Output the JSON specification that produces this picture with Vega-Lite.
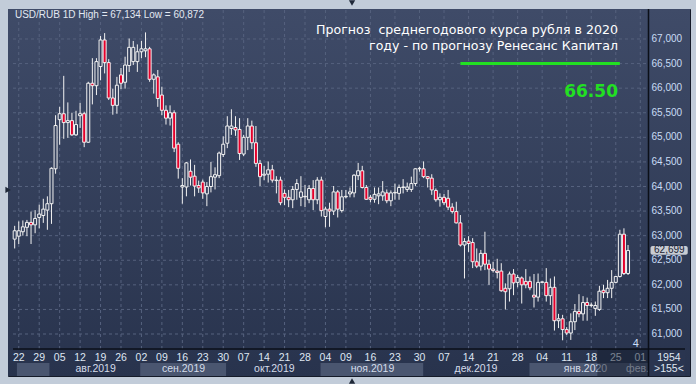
{
  "$schema": "https://vega.github.io/schema/vega-lite/v6.json",
  "width": 682,
  "height": 367,
  "autosize": {"type": "none"},
  "padding": {"left": 8, "top": 9, "right": 6, "bottom": 8},
  "background": "#c2ccd9",
  "config": {
    "view": {"stroke": "#141a28", "strokeWidth": 1, "fill": "#34405b"},
    "locale": {"number": {"decimal": ",", "thousands": " ", "grouping": [3], "currency": ["", ""]}}
  },
  "datasets": {
    "candles": [
      {"i":1,"o":62.93,"h":63.20,"l":62.74,"c":63.10},
      {"i":2,"o":62.99,"h":63.29,"l":62.83,"c":63.10},
      {"i":3,"o":63.08,"h":63.31,"l":63.00,"c":63.18},
      {"i":4,"o":63.17,"h":63.32,"l":62.99,"c":63.27},
      {"i":5,"o":63.27,"h":63.49,"l":62.83,"c":63.22},
      {"i":6,"o":63.22,"h":63.52,"l":63.05,"c":63.35},
      {"i":7,"o":63.37,"h":63.63,"l":63.15,"c":63.44},
      {"i":8,"o":63.41,"h":63.75,"l":63.26,"c":63.54},
      {"i":9,"o":63.52,"h":63.80,"l":63.12,"c":63.65},
      {"i":10,"o":63.65,"h":64.39,"l":63.24,"c":64.37},
      {"i":11,"o":64.36,"h":65.45,"l":64.26,"c":65.24},
      {"i":12,"o":65.36,"h":65.62,"l":64.85,"c":65.48},
      {"i":13,"o":65.48,"h":66.25,"l":64.97,"c":65.30},
      {"i":14,"o":65.30,"h":65.71,"l":64.99,"c":65.34},
      {"i":15,"o":65.34,"h":65.50,"l":65.03,"c":65.05},
      {"i":16,"o":65.05,"h":65.54,"l":65.03,"c":65.26},
      {"i":17,"o":65.44,"h":65.70,"l":65.19,"c":65.48},
      {"i":18,"o":65.48,"h":65.52,"l":64.80,"c":64.90},
      {"i":19,"o":64.90,"h":66.13,"l":64.89,"c":66.10},
      {"i":20,"o":66.10,"h":66.61,"l":65.67,"c":66.05},
      {"i":21,"o":66.05,"h":66.61,"l":65.86,"c":66.54},
      {"i":22,"o":66.44,"h":67.06,"l":66.16,"c":66.98},
      {"i":23,"o":66.98,"h":67.12,"l":66.30,"c":66.52},
      {"i":24,"o":66.52,"h":66.59,"l":65.76,"c":65.80},
      {"i":25,"o":65.80,"h":65.99,"l":65.46,"c":65.65},
      {"i":26,"o":65.65,"h":66.23,"l":65.48,"c":66.06},
      {"i":27,"o":66.27,"h":66.41,"l":65.98,"c":66.10},
      {"i":28,"o":66.12,"h":66.64,"l":65.99,"c":66.47},
      {"i":29,"o":66.46,"h":67.01,"l":66.33,"c":66.83},
      {"i":30,"o":66.54,"h":66.96,"l":66.47,"c":66.83},
      {"i":31,"o":66.54,"h":66.89,"l":66.33,"c":66.74},
      {"i":32,"o":66.74,"h":66.96,"l":66.61,"c":66.80},
      {"i":33,"o":66.76,"h":67.134,"l":66.63,"c":66.80},
      {"i":34,"o":66.80,"h":66.84,"l":66.13,"c":66.18},
      {"i":35,"o":66.18,"h":66.30,"l":65.89,"c":66.27},
      {"i":36,"o":66.23,"h":66.37,"l":65.62,"c":65.79},
      {"i":37,"o":65.86,"h":66.03,"l":65.45,"c":65.55},
      {"i":38,"o":65.55,"h":65.65,"l":65.26,"c":65.39},
      {"i":39,"o":65.39,"h":65.65,"l":65.24,"c":65.50},
      {"i":40,"o":65.50,"h":65.55,"l":64.70,"c":64.78},
      {"i":41,"o":64.86,"h":64.90,"l":64.16,"c":64.37},
      {"i":42,"o":63.99,"h":64.17,"l":63.65,"c":64.02},
      {"i":43,"o":63.99,"h":64.50,"l":63.80,"c":64.48},
      {"i":44,"o":64.31,"h":64.55,"l":64.02,"c":64.19},
      {"i":45,"o":64.21,"h":64.44,"l":63.80,"c":64.01},
      {"i":46,"o":64.02,"h":64.12,"l":63.87,"c":63.97},
      {"i":47,"o":64.09,"h":64.14,"l":63.75,"c":63.87},
      {"i":48,"o":63.85,"h":64.09,"l":63.60,"c":64.00},
      {"i":49,"o":64.00,"h":64.50,"l":63.88,"c":64.20},
      {"i":50,"o":64.19,"h":64.39,"l":63.94,"c":64.24},
      {"i":51,"o":64.22,"h":64.71,"l":64.17,"c":64.68},
      {"i":52,"o":64.65,"h":65.02,"l":64.60,"c":64.86},
      {"i":53,"o":64.88,"h":65.43,"l":64.78,"c":65.23},
      {"i":54,"o":65.18,"h":65.57,"l":65.05,"c":65.23},
      {"i":55,"o":65.20,"h":65.43,"l":65.03,"c":65.15},
      {"i":56,"o":65.16,"h":65.39,"l":64.54,"c":64.67},
      {"i":57,"o":64.66,"h":65.05,"l":64.62,"c":65.00},
      {"i":58,"o":65.00,"h":65.39,"l":64.74,"c":65.23},
      {"i":59,"o":65.23,"h":65.34,"l":64.76,"c":64.89},
      {"i":60,"o":64.89,"h":65.23,"l":64.40,"c":64.47},
      {"i":61,"o":64.47,"h":64.54,"l":64.01,"c":64.20},
      {"i":62,"o":64.23,"h":64.42,"l":64.13,"c":64.25},
      {"i":63,"o":64.25,"h":64.51,"l":64.08,"c":64.34},
      {"i":64,"o":64.34,"h":64.44,"l":64.08,"c":64.13},
      {"i":65,"o":64.12,"h":64.21,"l":63.86,"c":64.13},
      {"i":66,"o":64.13,"h":64.20,"l":63.62,"c":63.67},
      {"i":67,"o":63.86,"h":63.94,"l":63.62,"c":63.78},
      {"i":68,"o":63.78,"h":63.93,"l":63.58,"c":63.73},
      {"i":69,"o":63.73,"h":64.01,"l":63.56,"c":63.94},
      {"i":70,"o":63.94,"h":64.15,"l":63.73,"c":64.06},
      {"i":71,"o":63.78,"h":64.21,"l":63.60,"c":63.89},
      {"i":72,"o":63.79,"h":64.03,"l":63.58,"c":63.80},
      {"i":73,"o":63.73,"h":64.03,"l":63.66,"c":63.96},
      {"i":74,"o":63.96,"h":64.13,"l":63.52,"c":63.73},
      {"i":75,"o":63.73,"h":64.19,"l":63.64,"c":64.13},
      {"i":76,"o":64.13,"h":64.20,"l":63.39,"c":63.51},
      {"i":77,"o":63.39,"h":63.59,"l":63.17,"c":63.54},
      {"i":78,"o":63.54,"h":63.67,"l":63.18,"c":63.50},
      {"i":79,"o":63.50,"h":64.01,"l":63.42,"c":63.89},
      {"i":80,"o":63.89,"h":63.93,"l":63.37,"c":63.54},
      {"i":81,"o":63.51,"h":63.93,"l":63.47,"c":63.79},
      {"i":82,"o":63.79,"h":63.93,"l":63.76,"c":63.80},
      {"i":83,"o":63.85,"h":63.98,"l":63.78,"c":63.89},
      {"i":84,"o":63.87,"h":64.25,"l":63.78,"c":64.23},
      {"i":85,"o":64.22,"h":64.48,"l":64.13,"c":64.32},
      {"i":86,"o":64.32,"h":64.42,"l":63.96,"c":63.98},
      {"i":87,"o":63.98,"h":64.03,"l":63.73,"c":63.74},
      {"i":88,"o":63.78,"h":63.83,"l":63.68,"c":63.74},
      {"i":89,"o":63.74,"h":63.98,"l":63.67,"c":63.84},
      {"i":90,"o":63.81,"h":63.98,"l":63.64,"c":63.85},
      {"i":91,"o":63.81,"h":64.11,"l":63.71,"c":63.89},
      {"i":92,"o":63.87,"h":63.94,"l":63.66,"c":63.71},
      {"i":93,"o":63.71,"h":63.92,"l":63.60,"c":63.87},
      {"i":94,"o":63.87,"h":64.06,"l":63.73,"c":63.88},
      {"i":95,"o":63.86,"h":64.04,"l":63.73,"c":63.98},
      {"i":96,"o":63.98,"h":64.15,"l":63.86,"c":63.99},
      {"i":97,"o":63.94,"h":64.08,"l":63.89,"c":63.99},
      {"i":98,"o":63.94,"h":64.20,"l":63.89,"c":64.06},
      {"i":99,"o":64.06,"h":64.37,"l":64.01,"c":64.36},
      {"i":100,"o":64.36,"h":64.40,"l":64.30,"c":64.37},
      {"i":101,"o":64.36,"h":64.51,"l":64.17,"c":64.20},
      {"i":102,"o":64.20,"h":64.21,"l":63.98,"c":64.16},
      {"i":103,"o":64.17,"h":64.25,"l":63.83,"c":63.93},
      {"i":104,"o":63.92,"h":63.96,"l":63.69,"c":63.73},
      {"i":105,"o":63.73,"h":63.86,"l":63.59,"c":63.78},
      {"i":106,"o":63.78,"h":63.85,"l":63.62,"c":63.67},
      {"i":107,"o":63.76,"h":63.93,"l":63.52,"c":63.58},
      {"i":108,"o":63.58,"h":63.66,"l":63.45,"c":63.49},
      {"i":109,"o":63.49,"h":63.69,"l":63.25,"c":63.26},
      {"i":110,"o":63.26,"h":63.42,"l":62.78,"c":62.81},
      {"i":111,"o":62.81,"h":62.95,"l":62.13,"c":62.88},
      {"i":112,"o":62.89,"h":62.99,"l":62.67,"c":62.84},
      {"i":113,"o":62.86,"h":62.95,"l":62.34,"c":62.47},
      {"i":114,"o":62.47,"h":62.74,"l":62.34,"c":62.38},
      {"i":115,"o":62.38,"h":62.71,"l":62.29,"c":62.64},
      {"i":116,"o":62.64,"h":63.08,"l":62.30,"c":62.42},
      {"i":117,"o":62.42,"h":62.51,"l":62.00,"c":62.32},
      {"i":118,"o":62.32,"h":62.47,"l":62.25,"c":62.29},
      {"i":119,"o":62.28,"h":62.53,"l":62.13,"c":62.25},
      {"i":120,"o":62.28,"h":62.44,"l":61.86,"c":61.88},
      {"i":121,"o":61.93,"h":62.03,"l":61.50,"c":61.86},
      {"i":122,"o":61.92,"h":62.27,"l":61.66,"c":62.22},
      {"i":123,"o":62.22,"h":62.32,"l":61.79,"c":62.04},
      {"i":124,"o":62.05,"h":62.20,"l":61.95,"c":62.15},
      {"i":125,"o":62.14,"h":62.17,"l":61.62,"c":62.00},
      {"i":126,"o":62.07,"h":62.32,"l":61.93,"c":62.00},
      {"i":127,"o":62.07,"h":62.17,"l":61.89,"c":61.94},
      {"i":128,"o":61.79,"h":62.22,"l":61.54,"c":61.75},
      {"i":129,"o":61.75,"h":62.23,"l":61.66,"c":62.05},
      {"i":130,"o":62.05,"h":62.07,"l":62.03,"c":62.06},
      {"i":131,"o":62.05,"h":62.34,"l":61.66,"c":61.78},
      {"i":132,"o":61.78,"h":62.13,"l":61.59,"c":61.95},
      {"i":133,"o":61.95,"h":62.17,"l":61.07,"c":61.27},
      {"i":134,"o":61.27,"h":61.41,"l":61.12,"c":61.31},
      {"i":135,"o":61.31,"h":61.39,"l":60.872,"c":61.09},
      {"i":136,"o":61.09,"h":61.14,"l":60.98,"c":61.02},
      {"i":137,"o":61.02,"h":61.42,"l":60.88,"c":61.25},
      {"i":138,"o":61.25,"h":61.61,"l":61.08,"c":61.46},
      {"i":139,"o":61.46,"h":61.81,"l":61.34,"c":61.41},
      {"i":140,"o":61.41,"h":61.77,"l":61.27,"c":61.64},
      {"i":141,"o":61.64,"h":61.74,"l":61.27,"c":61.58},
      {"i":142,"o":61.58,"h":61.64,"l":61.54,"c":61.59},
      {"i":143,"o":61.52,"h":61.66,"l":61.37,"c":61.58},
      {"i":144,"o":61.50,"h":61.98,"l":61.47,"c":61.87},
      {"i":145,"o":61.89,"h":62.00,"l":61.73,"c":61.84},
      {"i":146,"o":61.84,"h":62.10,"l":61.73,"c":61.93},
      {"i":147,"o":61.93,"h":62.30,"l":61.73,"c":62.05},
      {"i":148,"o":62.05,"h":62.18,"l":62.03,"c":62.17},
      {"i":149,"o":62.17,"h":63.12,"l":62.15,"c":63.03},
      {"i":150,"o":63.03,"h":63.15,"l":62.20,"c":62.23},
      {"i":151,"o":62.23,"h":62.81,"l":62.20,"c":62.699}
    ],
    "days": [
      {"i":2,"t":"22"},{"i":7,"t":"29"},{"i":12,"t":"05"},{"i":17,"t":"12"},{"i":22,"t":"19"},{"i":27,"t":"26"},
      {"i":32,"t":"02"},{"i":37,"t":"09"},{"i":42,"t":"16"},{"i":47,"t":"23"},{"i":52,"t":"30"},
      {"i":57,"t":"07"},{"i":62,"t":"14"},{"i":67,"t":"21"},{"i":72,"t":"28"},
      {"i":77,"t":"04"},{"i":82,"t":"09"},{"i":88,"t":"16"},{"i":94,"t":"23"},{"i":100,"t":"30"},
      {"i":106,"t":"07"},{"i":112,"t":"14"},{"i":118,"t":"21"},{"i":124,"t":"28"},
      {"i":130,"t":"04"},{"i":136,"t":"11"},{"i":142,"t":"18"},{"i":148,"t":"25"},{"i":154,"t":"01"}
    ],
    "months": [
      {"i":20.8,"t":"авг.2019"},{"i":42.3,"t":"сен.2019"},{"i":64.5,"t":"окт.2019"},{"i":88.5,"t":"ноя.2019"},
      {"i":113.8,"t":"дек.2019"},{"i":140.6,"t":"янв.2020"}
    ],
    "bands": [{"a":1.55,"b":9.5},{"a":31.7,"b":52.7},{"a":75.8,"b":100.9},{"a":126.9,"b":156}],
    "levels": [{"p":61},{"p":61.5},{"p":62},{"p":62.5},{"p":63},{"p":63.5},{"p":64},{"p":64.5},{"p":65},{"p":65.5},{"p":66},{"p":66.5},{"p":67}]
  },
  "layer": [
    {
      "data": {"values": [{}]},
      "mark": {"type": "rect", "fill": {"gradient": "linear", "x1": 0, "y1": 0, "x2": 0, "y2": 1, "stops": [{"offset": 0, "color": "#3f4b68"}, {"offset": 1, "color": "#28334d"}]}},
      "encoding": {}
    },
    {
      "data": {"name": "bands"},
      "mark": {"type": "rect", "fill": "#4a5670"},
      "encoding": {
        "x": {"field": "a", "type": "quantitative", "scale": {"domain": [0.59, 164.93], "nice": false, "zero": false}, "axis": null},
        "x2": {"field": "b"},
        "y": {"datum": 60.146, "type": "quantitative", "scale": {"domain": [60.146, 67.61], "nice": false, "zero": false}, "axis": null},
        "y2": {"datum": 60.411}
      }
    },
    {
      "data": {"name": "levels"},
      "mark": {"type": "rule", "stroke": "#56627e", "strokeWidth": 1, "strokeDash": [3, 3]},
      "encoding": {
        "y": {"field": "p", "type": "quantitative", "axis": null},
        "x": {"datum": 0.59, "type": "quantitative", "axis": null},
        "x2": {"datum": 156}
      }
    },
    {
      "data": {"name": "days"},
      "mark": {"type": "rule", "stroke": "#56627e", "strokeWidth": 1, "strokeDash": [3, 3]},
      "encoding": {
        "x": {"field": "i", "type": "quantitative", "axis": null},
        "y": {"datum": 60.695, "type": "quantitative", "axis": null},
        "y2": {"datum": 67.61}
      }
    },
    {
      "data": {"values": [{}]},
      "mark": {"type": "rule", "stroke": "#22e022", "strokeWidth": 3},
      "encoding": {
        "x": {"datum": 110, "type": "quantitative", "axis": null},
        "x2": {"datum": 149},
        "y": {"datum": 66.5, "type": "quantitative", "axis": null}
      }
    },
    {
      "data": {"name": "candles"},
      "mark": {"type": "rule", "stroke": "#f2f2f2", "strokeWidth": 1},
      "encoding": {
        "x": {"field": "i", "type": "quantitative", "axis": null},
        "y": {"field": "l", "type": "quantitative", "axis": null},
        "y2": {"field": "h"}
      }
    },
    {
      "data": {"name": "candles"},
      "mark": {"type": "bar", "size": 3, "stroke": "#f2f2f2", "strokeWidth": 1},
      "encoding": {
        "x": {"field": "i", "type": "quantitative", "axis": null},
        "y": {"field": "o", "type": "quantitative", "axis": null},
        "y2": {"field": "c"},
        "fill": {"condition": {"test": "datum.c < datum.o", "value": "#e5002b"}, "value": "#36425e"}
      }
    },
    {
      "data": {"name": "levels"},
      "mark": {"type": "text", "font": "Liberation Sans", "fontSize": 10, "fill": "#c9dcf5", "baseline": "middle", "align": "left"},
      "encoding": {
        "x": {"datum": 156.75, "type": "quantitative", "axis": null},
        "y": {"field": "p", "type": "quantitative", "axis": null},
        "text": {"field": "p", "type": "quantitative", "format": ".3f"}
      }
    },
    {
      "data": {"name": "days"},
      "mark": {"type": "text", "font": "Liberation Sans", "fontSize": 10.5, "fill": "#dfe6f2", "baseline": "alphabetic", "align": "center"},
      "encoding": {
        "x": {"field": "i", "type": "quantitative", "axis": null},
        "y": {"datum": 60.457, "type": "quantitative", "axis": null},
        "text": {"field": "t"}
      }
    },
    {
      "data": {"name": "months"},
      "mark": {"type": "text", "font": "Liberation Sans", "fontSize": 10.5, "fill": "#d4dcea", "baseline": "alphabetic", "align": "center"},
      "encoding": {
        "x": {"field": "i", "type": "quantitative", "axis": null},
        "y": {"datum": 60.234, "type": "quantitative", "axis": null},
        "text": {"field": "t"}
      }
    },
    {
      "data": {"values": [{}]},
      "mark": {"type": "text", "font": "Liberation Sans", "fontSize": 10.5, "fill": "#d4dcea", "baseline": "alphabetic", "align": "left", "text": "фев.2020", "limit": 28, "ellipsis": " "},
      "encoding": {
        "x": {"datum": 150.5, "type": "quantitative", "axis": null},
        "y": {"datum": 60.234, "type": "quantitative", "axis": null}
      }
    },
    {
      "data": {"values": [{}]},
      "mark": {"type": "rect", "fill": "#141b2b", "opacity": 0.5},
      "encoding": {
        "x": {"datum": 143.5, "type": "quantitative", "axis": null},
        "x2": {"datum": 156},
        "y": {"datum": 60.146, "type": "quantitative", "axis": null},
        "y2": {"datum": 60.695}
      }
    },
    {
      "data": {"values": [{}]},
      "mark": {"type": "rect", "fill": "#2a3550"},
      "encoding": {
        "x": {"datum": 156, "type": "quantitative", "axis": null},
        "x2": {"datum": 164.93},
        "y": {"datum": 60.146, "type": "quantitative", "axis": null},
        "y2": {"datum": 60.695}
      }
    },
    {
      "data": {"values": [{}]},
      "mark": {"type": "rule", "stroke": "#0b0f18", "strokeWidth": 1.5},
      "encoding": {
        "x": {"datum": 156, "type": "quantitative", "axis": null},
        "y": {"datum": 60.146, "type": "quantitative", "axis": null},
        "y2": {"datum": 67.61}
      }
    },
    {
      "data": {"values": [{}]},
      "mark": {"type": "rule", "stroke": "#0b0f18", "strokeWidth": 1.5},
      "encoding": {
        "x": {"datum": 0.59, "type": "quantitative", "axis": null},
        "x2": {"datum": 164.93},
        "y": {"datum": 60.695, "type": "quantitative", "axis": null}
      }
    },
    {
      "data": {"values": [{"t": "1954", "p": 60.457}, {"t": ">155<", "p": 60.234}]},
      "mark": {"type": "text", "font": "Liberation Sans", "fontSize": 10.5, "fill": "#dfe6f2", "baseline": "alphabetic", "align": "center"},
      "encoding": {
        "x": {"datum": 161, "type": "quantitative", "axis": null},
        "y": {"field": "p", "type": "quantitative", "axis": null},
        "text": {"field": "t"}
      }
    },
    {
      "data": {"values": [{}]},
      "mark": {"type": "text", "font": "Liberation Sans", "fontSize": 11, "fill": "#c9dcf8", "baseline": "alphabetic", "align": "center", "text": "4"},
      "encoding": {
        "x": {"datum": 152.9, "type": "quantitative", "axis": null},
        "y": {"datum": 60.73, "type": "quantitative", "axis": null}
      }
    },
    {
      "data": {"values": [{}]},
      "mark": {"type": "rect", "fill": "#c8ccd3", "cornerRadius": 2},
      "encoding": {
        "x": {"datum": 156.5, "type": "quantitative", "axis": null},
        "x2": {"datum": 165.6},
        "y": {"datum": 62.61, "type": "quantitative", "axis": null},
        "y2": {"datum": 62.79}
      }
    },
    {
      "data": {"values": [{}]},
      "mark": {"type": "text", "font": "Liberation Sans", "fontSize": 10, "fill": "#1a2234", "baseline": "middle", "align": "center", "text": "62,699"},
      "encoding": {
        "x": {"datum": 161.1, "type": "quantitative", "axis": null},
        "y": {"datum": 62.71, "type": "quantitative", "axis": null}
      }
    },
    {
      "data": {"values": [{}]},
      "mark": {"type": "text", "font": "Liberation Sans", "fontSize": 10, "fill": "#e2e8f2", "baseline": "alphabetic", "align": "left", "text": "USD/RUB 1D High = 67,134 Low = 60,872"},
      "encoding": {
        "x": {"datum": 1.07, "type": "quantitative", "axis": null},
        "y": {"datum": 67.421, "type": "quantitative", "axis": null}
      }
    },
    {
      "data": {"values": [{"t": "Прогноз \u00a0среднегодового курса рубля в 2020", "p": 67.096}, {"t": "году - по прогнозу Ренесанс Капитал", "p": 66.776}]},
      "mark": {"type": "text", "font": "DejaVu Sans", "fontSize": 12.6, "fill": "#ffffff", "baseline": "alphabetic", "align": "right"},
      "encoding": {
        "x": {"datum": 148.54, "type": "quantitative", "axis": null},
        "y": {"field": "p", "type": "quantitative", "axis": null},
        "text": {"field": "t"}
      }
    },
    {
      "data": {"values": [{}]},
      "mark": {"type": "text", "font": "DejaVu Sans", "fontSize": 17, "fontWeight": "bold", "fill": "#22e022", "baseline": "alphabetic", "align": "right", "text": "66.50"},
      "encoding": {
        "x": {"datum": 148.54, "type": "quantitative", "axis": null},
        "y": {"datum": 65.827, "type": "quantitative", "axis": null}
      }
    },
    {
      "data": {"values": [{}]},
      "mark": {"type": "point", "shape": "triangle-right", "size": 40, "filled": true, "fill": "#1f2838", "opacity": 1},
      "encoding": {
        "x": {"datum": -0.6, "type": "quantitative", "axis": null},
        "y": {"datum": 63.93, "type": "quantitative", "axis": null}
      }
    },
    {
      "data": {"values": [{}]},
      "mark": {"type": "point", "shape": "triangle-down", "size": 40, "filled": true, "fill": "#1f2838", "opacity": 1},
      "encoding": {
        "x": {"datum": 83.5, "type": "quantitative", "axis": null},
        "y": {"datum": 67.73, "type": "quantitative", "axis": null}
      }
    },
    {
      "data": {"values": [{}]},
      "mark": {"type": "point", "shape": "triangle-up", "size": 40, "filled": true, "fill": "#1f2838", "opacity": 1},
      "encoding": {
        "x": {"datum": 83.5, "type": "quantitative", "axis": null},
        "y": {"datum": 60.044, "type": "quantitative", "axis": null}
      }
    }
  ]
}
